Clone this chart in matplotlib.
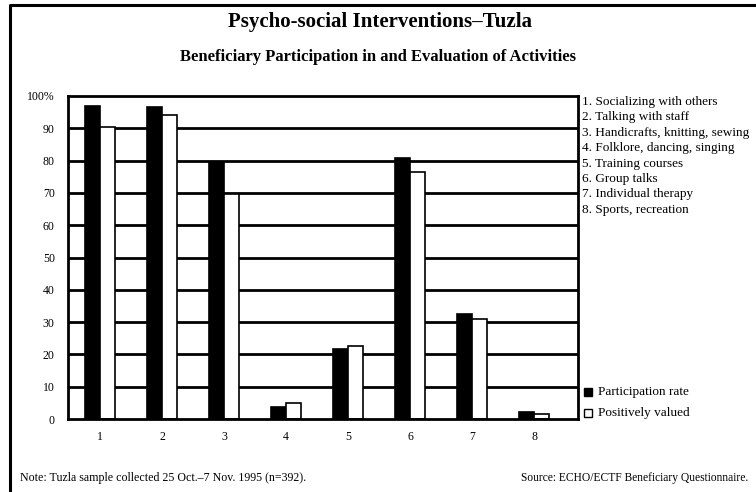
import matplotlib
matplotlib.use("Agg")
import matplotlib.pyplot as plt
from matplotlib.patches import Rectangle
from matplotlib.lines import Line2D
import numpy as np

categories = ["1", "2", "3", "4", "5", "6", "7", "8"]
activities = ["1. Socializing with others", "2. Talking with staff",
              "3. Handicrafts, knitting, sewing", "4. Folklore, dancing, singing",
              "5. Training courses", "6. Group talks", "7. Individual therapy",
              "8. Sports, recreation"]
participation = [97, 96.6, 79.6, 3.7, 21.8, 80.9, 32.5, 2.3]
valued = [90.3, 94, 69.6, 4.8, 22.6, 76.6, 30.9, 1.7]
ytick_vals = [0, 10, 20, 30, 40, 50, 60, 70, 80, 90, 100]
ytick_labels = ["0", "10", "20", "30", "40", "50", "60", "70", "80", "90", "100%"]

plt.rcParams['font.family'] = ['Liberation Serif', 'DejaVu Serif']

W, H = 756, 492
fig = plt.figure(figsize=(W / 100, H / 100), dpi=100)
ax = fig.add_axes([68 / W, 1 - 419 / H, (578 - 68) / W, (419 - 96) / H])

x = np.arange(1, len(categories) + 1)
bw = 0.24
ax.bar(x - bw / 2, participation, width=bw, color="black", edgecolor="black", lw=1.2, zorder=3)
ax.bar(x + bw / 2, valued, width=bw, color="white", edgecolor="black", lw=1.2, zorder=3)

for v in ytick_vals[1:-1]:
    ax.axhline(v, color="black", lw=2.0, zorder=1)

ax.set_xlim(0.48, 8.71)
ax.set_ylim(0, 100)
ax.set_yticks(ytick_vals)
ax.set_yticklabels(ytick_labels, fontsize=8.5)
ax.set_xticks(x)
ax.set_xticklabels(categories, fontsize=8.5)
ax.tick_params(length=0, axis='y', pad=9.5)
ax.tick_params(length=0, axis='x', pad=9)
for s in ax.spines.values():
    s.set_linewidth(2.0)
    s.set_zorder(4)

# frame (left and top only)
fig.add_artist(Line2D([10 / W, 10 / W, 1.0], [0.0, 1 - 5 / H, 1 - 5 / H],
                      transform=fig.transFigure, lw=2.2, color="black"))

fig.text(380 / W, 1 - 22 / H, "Psycho-social Interventions–Tuzla", ha="center", va="center",
         fontsize=15, fontweight="bold")
fig.text(378 / W, 1 - 57 / H, "Beneficiary Participation in and Evaluation of Activities",
         ha="center", va="center", fontsize=12, fontweight="bold")

for i, t in enumerate(activities):
    fig.text(582 / W, 1 - (102 + i * 15.4) / H, t, ha="left", va="center", fontsize=9.5)

fig.add_artist(Rectangle((584 / W, 1 - 396 / H), 8 / W, 8 / H, transform=fig.transFigure,
                         fc="black", ec="black", lw=1))
fig.text(598 / W, 1 - 392 / H, "Participation rate", ha="left", va="center", fontsize=9.5)
fig.add_artist(Rectangle((584 / W, 1 - 417 / H), 8 / W, 8 / H, transform=fig.transFigure,
                         fc="white", ec="black", lw=1))
fig.text(598 / W, 1 - 413 / H, "Positively valued", ha="left", va="center", fontsize=9.5)

fig.text(20 / W, 1 - 478 / H, "Note: Tuzla sample collected 25 Oct.–7 Nov. 1995 (n=392).",
         ha="left", va="center", fontsize=8.6)
fig.text(748 / W, 1 - 478 / H, "Source: ECHO/ECTF Beneficiary Questionnaire.",
         ha="right", va="center", fontsize=8.3)

fig.savefig("out.png", dpi=100)
